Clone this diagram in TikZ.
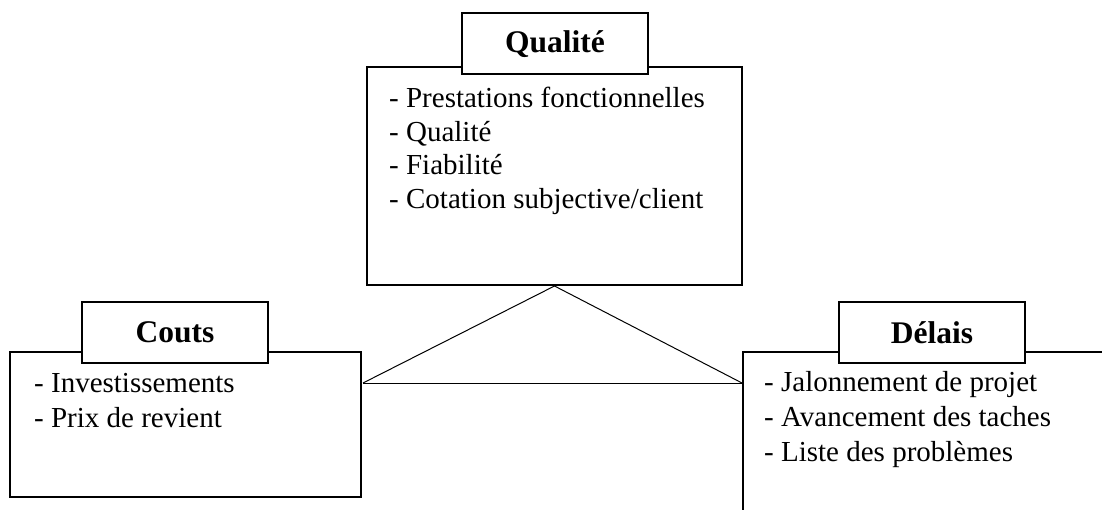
\documentclass[tikz,border=0pt]{standalone}
\usepackage{fontspec}
\setmainfont{Liberation Serif}
\begin{document}
\begin{tikzpicture}[x=1pt,y=-1pt,
  bigbox/.style={draw,line width=2pt,rectangle,inner sep=0pt},
  titlebox/.style={draw,line width=2pt,fill=white,rectangle,inner sep=0pt,
    minimum width=186pt,minimum height=61pt,font=\fontsize{31.5}{36}\selectfont\bfseries},
  item/.style={anchor=base west,inner sep=0pt,font=\fontsize{29}{34}\selectfont},
  link/.style={line width=1pt}]
\useasboundingbox (0,0) rectangle (1102,510);
% boxes
\node[bigbox,minimum width=375pt,minimum height=218pt] (qbox) at (554.5,176) {};
\node[bigbox,minimum width=351pt,minimum height=145pt] (cbox) at (185.5,424.5) {};
\coordinate (dcorner) at (743,352);
\coordinate (dright) at (1102,352);
\coordinate (dbottom) at (743,510);
\draw[line width=2pt,line cap=rect] (dright) -- (dcorner) -- (dbottom);
% triangle
\coordinate (tl) at (363,383);
\coordinate (tr) at (742,383);
\draw[link] (tl) -- (qbox.south) -- (tr);
\draw[link] (tl) -- (tr);
% titles
\node[titlebox] (qtitle) at (555,44) {Qualité};
\node[titlebox] (ctitle) at (175,332.5) {Couts};
\node[titlebox] (dtitle) at (932,332.5) {Délais};
% items
\node[item] (q1) at (389,108) {- Prestations fonctionnelles};
\node[item] (q2) at (389,141.5) {- Qualité};
\node[item] (q3) at (389,175) {- Fiabilité};
\node[item] (q4) at (389,208.5) {- Cotation subjective/client};
\node[item] (c1) at (34,392) {- Investissements};
\node[item] (c2) at (34,427) {- Prix de revient};
\node[item] (d1) at (764,391.5) {- Jalonnement de projet};
\node[item] (d2) at (764,426.5) {- Avancement des taches};
\node[item] (d3) at (764,461.5) {- Liste des problèmes};
\end{tikzpicture}
\end{document}
